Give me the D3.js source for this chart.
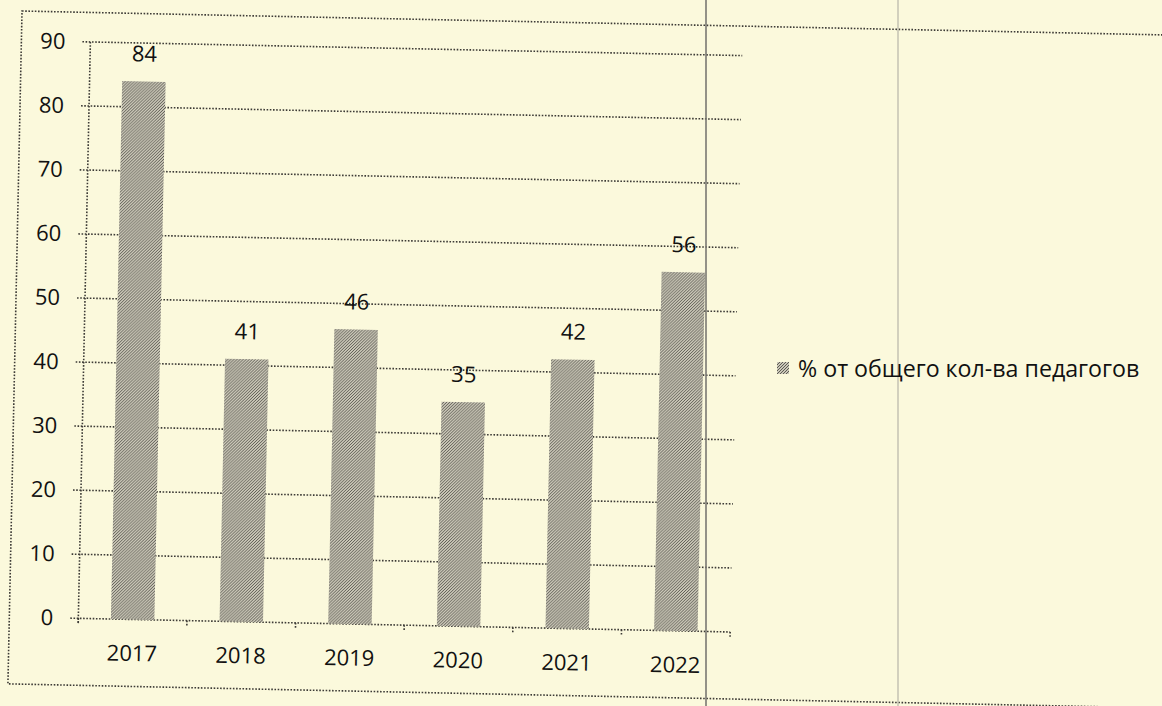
<!DOCTYPE html>
<html>
<head>
<meta charset="utf-8">
<script src="https://cdn.jsdelivr.net/npm/d3@7"></script>
<style>
  html, body { margin: 0; padding: 0; background: #fbf9dc; }
  svg { display: block; }
  text { font-family: "Open Sans", "Noto Sans", sans-serif; fill: #111; }
</style>
</head>
<body>
<svg id="chart" width="1162" height="706"></svg>
<script>
const years = ["2017", "2018", "2019", "2020", "2021", "2022"];
const values = [84, 41, 46, 35, 42, 56];
const yTicks = [0, 10, 20, 30, 40, 50, 60, 70, 80, 90];
const seriesName = "% от общего кол-ва педагогов";

const W = 1162, H = 706;
const svg = d3.select("#chart");

// background
svg.append("rect").attr("width", W).attr("height", H).attr("fill", "#fbf9dc");

// hatch pattern for bars
const defs = svg.append("defs");
const pat = defs.append("pattern")
  .attr("id", "hatch").attr("patternUnits", "userSpaceOnUse")
  .attr("width", 3).attr("height", 3);
pat.append("rect").attr("width", 3).attr("height", 3).attr("fill", "#cbc8b8");
pat.append("path").attr("d", "M-1,1 l2,-2 M0,3 l3,-3 M2,4 l2,-2")
  .attr("stroke", "#57554e").attr("stroke-width", 0.95);

// the scanned page is slightly rotated
const g = svg.append("g").attr("transform", "rotate(1.2, 400, 350)");

const plotLeft = 84, plotRight = 736, plotTop = 48.5, plotBottom = 625;
const x = d3.scaleBand().domain(years).range([plotLeft, plotRight]).paddingInner(0.6).paddingOuter(0.3);
const y = d3.scaleLinear().domain([0, 90]).range([plotBottom, plotTop]);

const dotted = sel => sel.attr("stroke", "#3d3b36").attr("stroke-width", 1.6)
  .attr("stroke-dasharray", "1.6,1.6").attr("fill", "none");

// outer chart border
g.append("rect").attr("x", 15).attr("y", 19).attr("width", 1300).attr("height", 673).call(dotted);

// gridlines
g.append("g").selectAll("line").data(yTicks).join("line")
  .attr("x1", plotLeft - 8).attr("x2", plotRight)
  .attr("y1", d => y(d)).attr("y2", d => y(d))
  .call(dotted);

// y axis
const yAxis = g.append("g").attr("transform", `translate(${plotLeft},0)`)
  .call(d3.axisLeft(y).tickValues(yTicks).tickSize(0).tickPadding(25));
yAxis.select(".domain").remove();
yAxis.selectAll("text").attr("font-size", 22).attr("font-family", "Open Sans").attr("fill", "#111");
g.append("line").attr("x1", plotLeft).attr("x2", plotLeft).attr("y1", plotTop).attr("y2", plotBottom + 6).call(dotted);

// x axis category boundary ticks
const step = x.step();
const bounds = d3.range(years.length + 1).map(i => plotLeft + (plotRight - plotLeft - step * years.length) / 2 + i * step);
g.append("g").selectAll("line").data(bounds).join("line")
  .attr("x1", d => d).attr("x2", d => d)
  .attr("y1", plotBottom).attr("y2", plotBottom + 6).call(dotted);

// x axis labels
const xAxis = g.append("g").attr("transform", `translate(0,${plotBottom})`)
  .call(d3.axisBottom(x).tickSize(0).tickPadding(26));
xAxis.select(".domain").remove();
xAxis.selectAll("text").attr("font-size", 22).attr("font-family", "Open Sans").attr("fill", "#111");

// bars
g.append("g").selectAll("rect").data(values).join("rect")
  .attr("x", (d, i) => x(years[i]))
  .attr("width", x.bandwidth())
  .attr("y", d => y(d))
  .attr("height", d => plotBottom - y(d))
  .attr("fill", "url(#hatch)");

// data labels
g.append("g").selectAll("text").data(values).join("text")
  .attr("x", (d, i) => x(years[i]) + x.bandwidth() / 2)
  .attr("y", d => y(d) - 20)
  .attr("text-anchor", "middle")
  .attr("font-size", 22)
  .text(d => d);

// scan artifacts: vertical page lines
svg.append("line").attr("x1", 706).attr("x2", 706).attr("y1", 0).attr("y2", H)
  .attr("stroke", "#7a7872").attr("stroke-width", 1.6);
svg.append("line").attr("x1", 898).attr("x2", 898).attr("y1", 0).attr("y2", H)
  .attr("stroke", "#bcbaac").attr("stroke-width", 1.3);

// legend
const lg = svg.append("g").attr("transform", "translate(777,362)");
lg.append("rect").attr("width", 12).attr("height", 12).attr("fill", "url(#hatch)");
lg.append("text").attr("x", 21).attr("y", 15).attr("font-size", 23.2).text(seriesName);
</script>
</body>
</html>
